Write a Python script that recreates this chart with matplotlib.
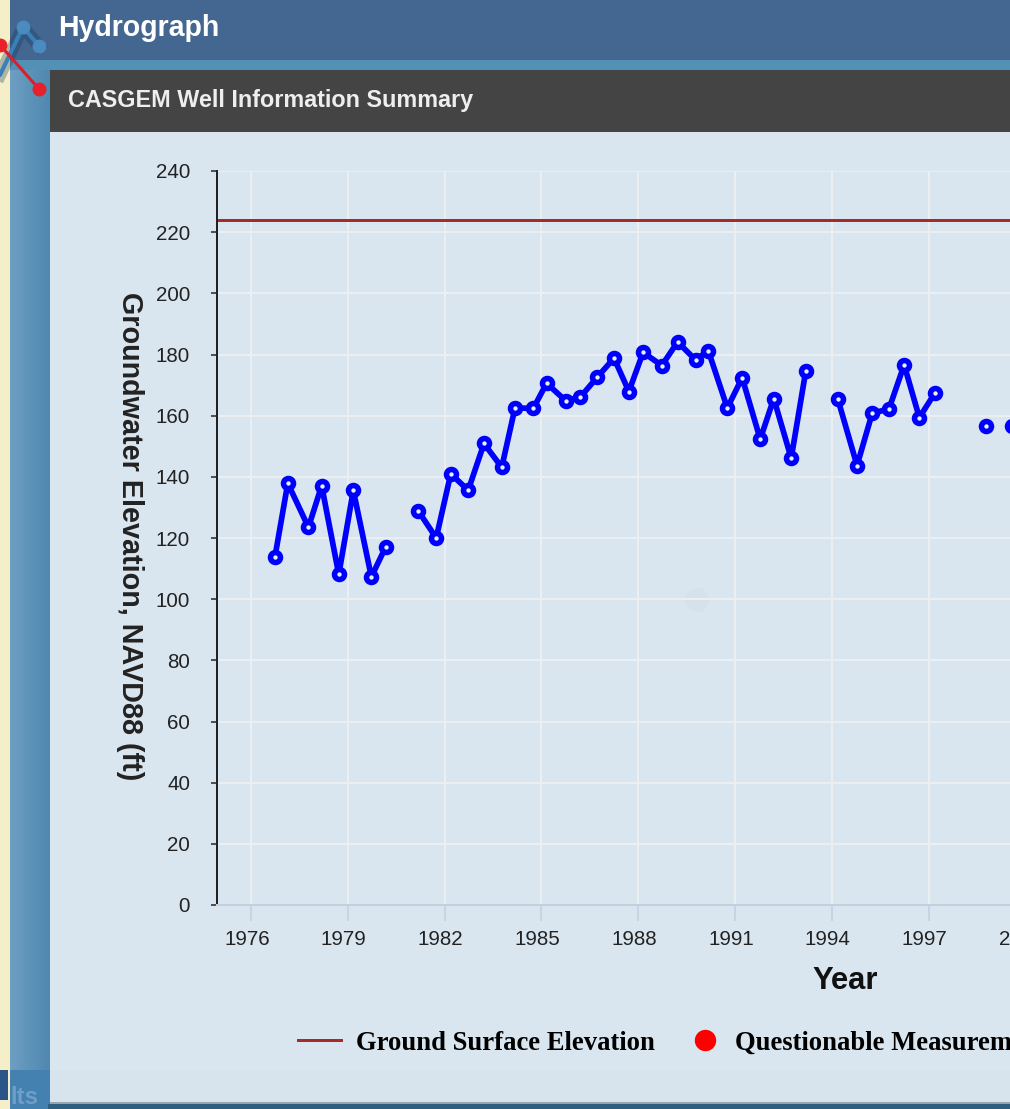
import matplotlib
matplotlib.use('Agg')
import matplotlib.pyplot as plt
from matplotlib.colors import LinearSegmentedColormap
from matplotlib.lines import Line2D
from matplotlib.patches import Rectangle, Circle
from matplotlib.transforms import ScaledTranslation
import numpy as np

nan = float('nan')

# nan breaks the line where the record has a gap
years = [1976.74, 1977.14, 1977.78, 1978.19, 1978.72, 1979.17, 1979.73, 1980.18, nan,
         1981.18, 1981.74, 1982.19, 1982.73, 1983.22, 1983.77, 1984.18, 1984.75,
         1985.16, 1985.75, 1986.20, 1986.73, 1987.25, 1987.71, 1988.15, 1988.73,
         1989.22, 1989.78, 1990.17, 1990.76, 1991.22, 1991.78, 1992.20, 1992.74,
         1993.19, nan,
         1994.18, 1994.78, 1995.25, 1995.77, 1996.24, 1996.71, 1997.20, nan,
         1998.78, nan, 1999.57]
levels = [113.7, 137.9, 123.5, 137.1, 108.1, 135.6, 107.3, 117.2, nan,
          128.9, 120.0, 141.0, 135.6, 150.9, 143.1, 162.5, 162.4,
          170.6, 164.9, 166.0, 172.6, 178.8, 167.9, 180.7, 176.4,
          184.1, 178.2, 181.3, 162.5, 172.4, 152.3, 165.6, 146.1,
          174.5, nan,
          165.6, 143.7, 160.8, 162.2, 176.6, 159.4, 167.5, nan,
          156.7, nan, 156.7]
ground_surface = 224

year_ticks = [1976, 1979, 1982, 1985, 1988, 1991, 1994, 1997, 2000]
level_ticks = list(range(0, 241, 20))

W, H = 1010, 1109
PX = 0.72  # points per pixel at dpi 100
sans = 'Liberation Sans'
serif = 'Liberation Serif'

fig = plt.figure(figsize=(W / 100, H / 100), dpi=100)

# window chrome behind the chart, in pixel coordinates
bg = fig.add_axes([0, 0, 1, 1], zorder=0)
bg.axis('off')

bg.add_patch(Rectangle((0, 0), W, H, color='#f4efc8', lw=0, zorder=0))
strip = LinearSegmentedColormap.from_list('strip', ['#6d9fc2', '#4f88b0'])
bg.imshow(np.linspace(0, 1, 40).reshape(1, -1), extent=(10, 50, 1109, 0), aspect='auto',
          cmap=strip, zorder=1)
bg.set_xlim(0, W)
bg.set_ylim(H, 0)
bg.add_patch(Rectangle((10, 0), W, 60, color='#446792', lw=0, zorder=2))
bg.add_patch(Rectangle((10, 60), W, 10, color='#5290b6', lw=0, zorder=2))
bg.add_patch(Rectangle((50, 70), W, 62, color='#444444', lw=0, zorder=2))
bg.add_patch(Rectangle((50, 132), W, 972, color='#dae6ef', lw=0, zorder=2))
bg.add_patch(Rectangle((50, 1070), W, 34, color='#d8e4ed', lw=0, zorder=2))
bg.add_patch(Rectangle((10, 1070), 40, 39, color='#4480b0', lw=0, zorder=2))
bg.add_patch(Rectangle((0, 1070), 8, 30, color='#2b5488', lw=0, zorder=2))
bg.add_patch(Rectangle((48, 1104), W, 5, color='#2f5f80', lw=0, zorder=2))
bg.add_patch(Rectangle((50, 1102), W, 2, color='#9aa4ac', lw=0, zorder=2))
bg.add_patch(Circle((697, 600), 12, color='#d6e2eb', lw=0, zorder=2))

# hydrograph icon in the corner
bg.plot([0, 23, 39], [75, 27, 46], color='#14304e', lw=9, alpha=0.3, zorder=3)
bg.plot([0, 23, 39], [75, 27, 46], color='#3a7fb8', lw=3, solid_capstyle='round', zorder=4)
bg.plot([23, 39], [27, 46], 'o', color='#4a8cc0', ms=9, zorder=4)
bg.plot([0, 39], [45, 89], color='#d8202a', lw=2.2, zorder=4)
bg.plot([0, 39], [45, 89], 'o', color='#e8202a', ms=9, zorder=4)

bg.text(58, 28, 'Hydrograph', color='white', fontsize=28.5 * PX, family=sans,
        fontweight='bold', va='center', zorder=5)
bg.text(68, 101, 'CASGEM Well Information Summary', color='#eeeeee', fontsize=23.4 * PX,
        family=sans, fontweight='bold', va='center', zorder=5)
bg.text(10, 1097, 'lts', color='#6f9fc6', fontsize=24 * PX, family=sans, fontweight='bold',
        va='center', zorder=5)

# chart runs past the right edge of the picture, like the cropped screenshot
px_per_year = 32.27
left, right, top, bottom = 217, 1110, 171, 905
ax = fig.add_axes([left / W, 1 - bottom / H, (right - left) / W, (bottom - top) / H], zorder=1)
ax.patch.set_alpha(0)
ax.set_xlim(1976 + (left - 251) / px_per_year, 1976 + (right - 251) / px_per_year)
ax.set_ylim(0, 240)

ax.grid(True, color='#eceff1', lw=2 * PX)
ax.set_axisbelow(True)
ax.set_xticks(year_ticks)
ax.set_yticks(level_ticks)
for side in ['top', 'right']:
    ax.spines[side].set_visible(False)
ax.spines['left'].set_color('#222222')
ax.spines['left'].set_linewidth(2 * PX)
ax.spines['bottom'].set_color('#c0d0e0')
ax.spines['bottom'].set_linewidth(2 * PX)
ax.tick_params(axis='x', length=16 * PX, width=1.5 * PX, color='#c0d0e0', pad=6.3,
               labelsize=20.5 * PX, labelcolor='#222222')
ax.tick_params(axis='y', length=6 * PX, width=1.5 * PX, color='#222222', pad=15,
               labelsize=20.5 * PX, labelcolor='#222222')
shift = ScaledTranslation(-4 / 100, 0, fig.dpi_scale_trans)
for lab in ax.get_xticklabels():
    lab.set_family(sans)
    lab.set_transform(lab.get_transform() + shift)
for lab in ax.get_yticklabels():
    lab.set_family(sans)

ax.axhline(ground_surface, color='#a52a2a', lw=3 * PX)
ax.plot(years, levels, '-o', color='#0000ff', lw=5.7 * PX, ms=10 * PX, mew=5.5 * PX, mfc='#e8f0f8')

bg.text(130, 536, 'Groundwater Elevation, NAVD88 (ft)', rotation=270, family=sans, fontweight='bold',
        fontsize=28.8 * PX, color='#222222', ha='center', va='center', zorder=5)
bg.text(845, 981, 'Year', family=sans, fontweight='bold', fontsize=31 * PX, color='#111111',
        ha='center', va='center', zorder=5)

legend_font = {'family': serif, 'weight': 'bold', 'size': 26.6 * PX}
fig.legend([Line2D([], [], color='#a52a2a', lw=3 * PX)], ['Ground Surface Elevation'],
           loc='center left', bbox_to_anchor=(298 / W, 1 - 1043 / H), frameon=False, prop=legend_font,
           handlelength=1.61, handletextpad=0.56, borderpad=0, borderaxespad=0)
fig.legend([Line2D([], [], color='#ff0000', marker='o', ls='', ms=20 * PX)],
           ['Questionable Measurement'],
           loc='center left', bbox_to_anchor=(690 / W, 1 - 1043 / H), frameon=False, prop=legend_font,
           handlelength=1.12, handletextpad=0.56, borderpad=0, borderaxespad=0)

fig.savefig('out.png', dpi=100)
